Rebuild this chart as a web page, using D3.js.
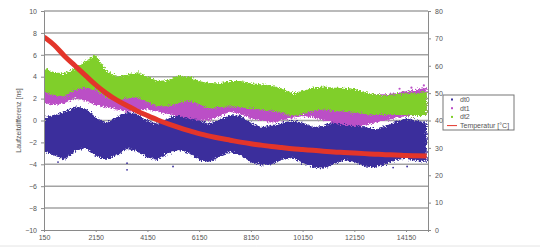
<!DOCTYPE html>
<html lang="de">
<head>
<meta charset="UTF-8">
<title>Laufzeitdifferenz</title>
<script src="https://cdnjs.cloudflare.com/ajax/libs/d3/7.8.5/d3.min.js"></script>
<style>
  body { margin: 0; background: #fff; }
  text { font-family: "Liberation Sans", Arial, sans-serif; fill: #555; }
  .grid line { stroke: #a3a3a3; stroke-width: 1.5; }
  .axis path, .axis line { stroke: #8a8a8a; }
</style>
</head>
<body>
<div id="chart"></div>
<script>
// sample positions (messpunkt)
var xs = [150, 550, 950, 1350, 1750, 2150, 2550, 2950, 3350, 3750, 4150, 4550, 4950, 5350,
          5750, 6150, 6550, 6950, 7350, 7750, 8150, 8550, 8950, 9350, 9750, 10150, 10550,
          10950, 11350, 11750, 12150, 12550, 12950, 13350, 13750, 14150, 14550, 14950];

// dt0 cloud, upper / lower edge [ns]
var dt0Top = [0.3, 0.5, 0.8, 1.3, 1.1, 0.3, -0.2, 0.3, 0.8, 0.6, 0.0, -0.3, 0.2, 0.6,
              0.5, 0.0, -0.3, 0.1, 0.5, 0.4, -0.2, -0.6, -0.5, -0.2, 0.0, -0.2, -0.6,
              -0.5, -0.1, 0.1, -0.2, -0.6, -0.8, -0.5, -0.1, 0.2, 0.0, -0.2];
var dt0Bot = [-2.8, -3.2, -3.6, -2.8, -2.5, -3.2, -3.6, -3.2, -2.6, -2.8, -3.4, -3.6, -3.0, -2.7,
              -3.0, -3.6, -3.8, -3.3, -2.9, -3.2, -3.8, -4.1, -4.0, -3.6, -3.4, -3.9, -4.3,
              -4.4, -4.0, -3.6, -3.8, -4.2, -4.3, -4.0, -3.6, -3.5, -3.7, -3.8];

// dt1 cloud
var dt1Top = [4.4, 4.1, 4.0, 4.4, 5.0, 5.4, 4.3, 3.7, 3.9, 4.1, 3.7, 3.3, 3.4, 3.8,
              3.7, 3.3, 3.1, 3.1, 3.3, 3.3, 3.1, 3.0, 2.9, 2.6, 2.3, 2.5, 2.8,
              2.9, 2.8, 2.8, 2.7, 2.5, 2.4, 2.4, 2.5, 2.7, 2.8, 3.0];
var dt1Bot = [1.6, 1.4, 1.6, 2.0, 1.8, 1.4, 1.2, 1.0, 0.8, 0.9, 1.0, 0.8, 0.6, 0.4,
              0.2, 0.0, 0.0, 0.4, 0.8, 0.6, 0.2, 0.0, -0.2, 0.0, 0.2, 0.4, 0.3,
              0.0, -0.2, -0.4, -0.5, -0.4, -0.2, 0.0, 0.2, 0.4, 0.4, 0.4];

// dt2 cloud
var dt2Top = [4.8, 4.4, 4.3, 4.8, 5.4, 6.0, 4.6, 4.0, 4.2, 4.4, 4.0, 3.6, 3.7, 4.1,
              4.0, 3.6, 3.4, 3.4, 3.6, 3.6, 3.4, 3.3, 3.2, 2.9, 2.5, 2.7, 3.0,
              3.1, 3.0, 3.0, 2.9, 2.6, 2.4, 2.3, 2.4, 2.5, 2.5, 2.6];
var dt2Bot = [2.6, 2.3, 2.2, 2.8, 3.0, 2.8, 2.2, 1.8, 2.0, 2.1, 1.7, 1.3, 1.3, 1.6,
              1.8, 1.5, 1.1, 1.2, 1.3, 1.2, 1.1, 1.0, 0.9, 0.7, 0.4, 0.6, 0.9,
              1.0, 0.9, 0.8, 0.7, 0.6, 0.5, 0.5, 0.5, 0.5, 0.4, 0.4];

// Temperatur [°C]
var temp = [70.5, 67.5, 63.5, 60, 56.5, 53, 50, 47.5, 45.5, 43.5, 41.8, 40.2, 38.8, 37.5,
            36.3, 35.2, 34.3, 33.5, 32.8, 32.1, 31.5, 31.0, 30.5, 30.1, 29.7, 29.4, 29.1,
            28.8, 28.5, 28.3, 28.1, 27.9, 27.7, 27.5, 27.4, 27.2, 27.1, 27.0];

// einzelne Ausreisser
var dt0Out = [[692, -3.8], [3361, -3.9], [3361, -4.5], [5140, -4.2], [13225, -4.0], [13651, -4.3], [14192, -4.2]];
var dt1Out = [[14360, 3.0], [14840, 3.2], [13900, 2.9]];

var xTicks = [150, 2150, 4150, 6150, 8150, 10150, 12150, 14150];
var yTicks = [-10, -8, -6, -4, -2, 0, 2, 4, 6, 8, 10];
var tTicks = [0, 10, 20, 30, 40, 50, 60, 70, 80];
var legendNames = ['dt0', 'dt1', 'dt2', 'Temperatur [°C]'];

var colors = { dt0: '#3a2f9c', dt1: '#bb4fc6', dt2: '#80cf2a', temp: '#e3352a' };

var width = 540, height = 248,
    pLeft = 44, pRight = 428, pTop = 11, pBottom = 230;

var svg = d3.select('#chart').append('svg')
    .attr('width', width)
    .attr('height', height);

var x = d3.scaleLinear().domain([150, 15000]).range([pLeft, pRight]);
var y = d3.scaleLinear().domain([-10, 10]).range([pBottom, pTop]);
var yT = d3.scaleLinear().domain([0, 80]).range([pBottom, pTop]);

var defs = svg.append('defs');
defs.append('clipPath').attr('id', 'clip')
  .append('rect').attr('x', pLeft).attr('y', pTop).attr('width', pRight - pLeft).attr('height', pBottom - pTop);

// rough, speckled edges so the bands read like dense point clouds
var f = defs.append('filter').attr('id', 'speckle')
  .attr('x', '-5%').attr('y', '-20%').attr('width', '110%').attr('height', '140%');
f.append('feTurbulence').attr('type', 'fractalNoise').attr('baseFrequency', 0.7)
  .attr('numOctaves', 2).attr('seed', 3).attr('result', 'noise');
f.append('feDisplacementMap').attr('in', 'SourceGraphic').attr('in2', 'noise')
  .attr('scale', 6).attr('xChannelSelector', 'R').attr('yChannelSelector', 'G');

// gridlines
svg.append('g').attr('class', 'grid')
  .selectAll('line').data(yTicks.filter(function (d) { return d > -10; }))
  .enter().append('line')
    .attr('x1', pLeft).attr('x2', pRight)
    .attr('y1', y).attr('y2', y);

var plot = svg.append('g').attr('clip-path', 'url(#clip)');

function band(hi, lo) {
  return d3.area()
    .x(function (d, i) { return x(xs[i]); })
    .y0(function (d, i) { return y(lo[i]); })
    .y1(function (d, i) { return y(hi[i]); })(xs);
}

function dots(data, color, r) {
  plot.append('g').selectAll('circle').data(data).enter().append('circle')
    .attr('cx', function (d) { return x(d[0]); })
    .attr('cy', function (d) { return y(d[1]); })
    .attr('r', r).attr('fill', color);
}

plot.append('path').attr('d', band(dt0Top, dt0Bot)).attr('fill', colors.dt0)
  .attr('filter', 'url(#speckle)');
dots(dt0Out, colors.dt0, 0.9);
plot.append('path').attr('d', band(dt1Top, dt1Bot)).attr('fill', colors.dt1)
  .attr('filter', 'url(#speckle)');
dots(dt1Out, colors.dt1, 1.1);
plot.append('path').attr('d', band(dt2Top, dt2Bot)).attr('fill', colors.dt2)
  .attr('filter', 'url(#speckle)');

plot.append('path')
  .attr('d', d3.line()
      .x(function (d, i) { return x(xs[i]); })
      .y(function (d) { return yT(d); })
      .curve(d3.curveMonotoneX)(temp))
  .attr('fill', 'none')
  .attr('stroke', colors.temp)
  .attr('stroke-width', 5);

// axes
var axL = svg.append('g').attr('class', 'axis')
  .attr('transform', 'translate(' + pLeft + ',0)')
  .call(d3.axisLeft(y).tickValues(yTicks).tickSize(3).tickPadding(4).tickFormat(d3.format('d')));
var axR = svg.append('g').attr('class', 'axis')
  .attr('transform', 'translate(' + pRight + ',0)')
  .call(d3.axisRight(yT).tickValues(tTicks).tickSize(3).tickPadding(4));
var axB = svg.append('g').attr('class', 'axis')
  .attr('transform', 'translate(0,' + pBottom + ')')
  .call(d3.axisBottom(x).tickValues(xTicks).tickSize(2).tickPadding(3).tickFormat(d3.format('d')));
[axL, axR, axB].forEach(function (a) {
  a.select('.domain').attr('stroke', '#8a8a8a');
  a.selectAll('text').attr('font-size', 7).attr('fill', '#555');
});

svg.append('text')
  .attr('transform', 'translate(21,' + ((pTop + pBottom) / 2) + ') rotate(-90)')
  .attr('text-anchor', 'middle')
  .attr('font-size', 7)
  .text('Laufzeitdifferenz [ns]');

// legend
var lg = svg.append('g').attr('transform', 'translate(443,95)');
lg.append('rect').attr('width', 71).attr('height', 35)
  .attr('fill', '#fff').attr('stroke', '#777').attr('stroke-width', 1);
var li = lg.selectAll('g.item').data(legendNames).enter().append('g')
  .attr('transform', function (d, i) { return 'translate(0,' + (4.5 + i * 8.7) + ')'; });
li.each(function (d, i) {
  var g = d3.select(this);
  if (i < 3) {
    g.append('rect').attr('x', 8).attr('y', -1).attr('width', 2).attr('height', 2)
      .attr('fill', [colors.dt0, colors.dt1, colors.dt2][i]);
  } else {
    g.append('line').attr('x1', 4).attr('x2', 14).attr('y1', 0).attr('y2', 0)
      .attr('stroke', colors.temp).attr('stroke-width', 1);
  }
  g.append('text').attr('x', 17).attr('y', 2.5).attr('font-size', 7).text(d);
});

// unterer Rahmen
svg.append('line').attr('x1', 0).attr('x2', width).attr('y1', 246).attr('y2', 246)
  .attr('stroke', '#e4e4e4').attr('stroke-width', 1);
</script>
</body>
</html>
